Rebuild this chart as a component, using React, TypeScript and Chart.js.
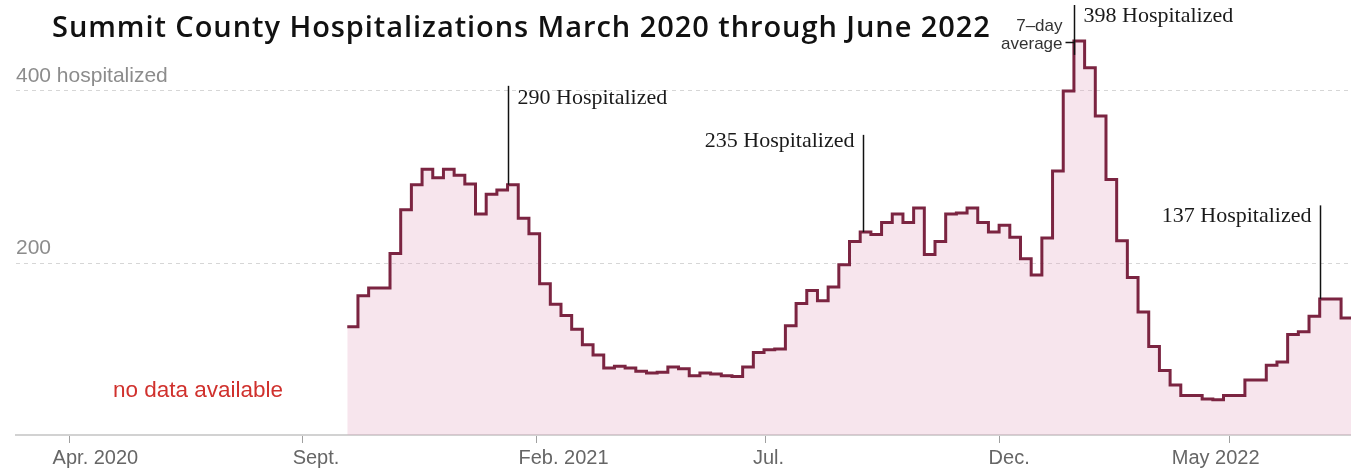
import React, { useEffect, useRef } from 'react';
import { Chart, registerables } from 'chart.js';

Chart.register(...registerables);

// ---- data ----
const originDate = '2020-04-01';
const seriesStartDate = '2020-09-30'; // first weekly value
const weeklyHospitalized = [
  126, 162, 171, 171, 211, 262, 291, 309, 299, 309,
  302, 292, 257, 280, 285, 291, 252, 234, 176, 152,
  139, 123, 105, 93, 78, 80, 78, 74, 72, 73,
  79, 77, 69, 72, 71, 69, 68, 79, 96, 99,
  100, 127, 153, 168, 156, 172, 198, 225, 236, 233,
  247, 257, 247, 264, 210, 225, 257, 258, 264, 247,
  236, 244, 230, 205, 186, 229, 307, 400, 458, 427,
  371, 297, 226, 183, 143, 103, 75, 58, 46, 46,
  42, 41, 46, 46, 64, 64, 81, 85, 117, 120,
  138, 158, 158, 136,
];
const tickDates = ['2020-04-01', '2020-09-01', '2021-02-01', '2021-07-01', '2021-12-01', '2022-05-01'];
const tickLabels = ['Apr. 2020', 'Sept.', 'Feb. 2021', 'Jul.', 'Dec.', 'May 2022'];
const yTickValues = [200, 400];
const calloutTexts = ['290 Hospitalized', '235 Hospitalized', '398 Hospitalized', '137 Hospitalized'];
const calloutWeeks = [15, 48.3, 68, 91];

// ---- helpers / layout ----
const dayOf = (s: string) => (Date.parse(s) - Date.parse(originDate)) / 86400000;
const startDay = dayOf(seriesStartDate);
const xMinDay = -35;
const xMaxDay = 839.5;
const tickNudges = [26, 13, 27, 3, 10, -14];
const calloutCfg = [
  { top: 406, bottom: null as number | null, side: 'left', dy: 18 },
  { top: 349, bottom: null as number | null, side: 'right', dy: 12 },
  { top: 500, bottom: 442 as number | null, side: 'left', dy: 17 },
  { top: 267, bottom: null as number | null, side: 'right', dy: 17 },
];

const overlayPlugin = {
  id: 'overlay',
  afterDraw(chart: any) {
    const { ctx, scales } = chart;
    const x = scales.x;
    const y = scales.y;
    ctx.save();

    // Title
    const titleText = 'Summit County Hospitalizations March 2020 through June 2022';
    ctx.font = '600 29px "Open Sans"';
    (ctx as any).letterSpacing = '0px';
    const w = ctx.measureText(titleText).width;
    const extra = Math.max(0, Math.min(2, (938 - w) / (titleText.length - 1)));
    (ctx as any).letterSpacing = `${extra.toFixed(2)}px`;
    ctx.fillStyle = '#111';
    ctx.textAlign = 'left';
    ctx.textBaseline = 'alphabetic';
    ctx.fillText(titleText, 52, 37);
    (ctx as any).letterSpacing = '0px';

    // x tick labels
    ctx.font = '20px "Liberation Sans"';
    ctx.fillStyle = '#666';
    ctx.textAlign = 'center';
    ctx.textBaseline = 'middle';
    tickDates.forEach((d, i) => {
      ctx.fillText(tickLabels[i], x.getPixelForValue(dayOf(d)) + tickNudges[i], 458);
    });

    // no data
    ctx.font = '22.5px "Liberation Sans"';
    ctx.fillStyle = '#d0312d';
    ctx.textAlign = 'left';
    ctx.textBaseline = 'alphabetic';
    ctx.fillText('no data available', 113, 397);

    // callouts
    ctx.strokeStyle = '#111';
    ctx.lineWidth = 1.5;
    ctx.fillStyle = '#1a1a1a';
    ctx.font = '22px "Liberation Serif"';
    calloutTexts.forEach((t, i) => {
      const cfg = calloutCfg[i];
      const wk = calloutWeeks[i];
      const px = Math.round(x.getPixelForValue(startDay + 7 * wk)) + 0.5;
      const topPx = y.getPixelForValue(cfg.top);
      const botVal = cfg.bottom != null ? cfg.bottom : weeklyHospitalized[Math.floor(wk)];
      const botPx = y.getPixelForValue(botVal);
      ctx.beginPath();
      ctx.moveTo(px, topPx);
      ctx.lineTo(px, botPx);
      ctx.stroke();
      ctx.textAlign = cfg.side === 'left' ? 'left' : 'right';
      ctx.fillText(t, cfg.side === 'left' ? px + 9 : px - 9, topPx + cfg.dy);
    });

    // 7-day average label
    const px68 = Math.round(x.getPixelForValue(startDay + 7 * 68)) + 0.5;
    ctx.font = '17px "Liberation Sans"';
    ctx.fillStyle = '#333';
    ctx.textAlign = 'right';
    ctx.fillText('7–day', px68 - 12, 31);
    ctx.fillText('average', px68 - 12, 49);
    ctx.beginPath();
    ctx.moveTo(px68 - 9, 42.5);
    ctx.lineTo(px68, 42.5);
    ctx.stroke();

    ctx.restore();
  },
};

export default function App() {
  const ref = useRef<HTMLCanvasElement>(null);
  useEffect(() => {
    const points = weeklyHospitalized.map((v, i) => ({ x: startDay + 7 * i, y: v }));
    points.push({ x: startDay + 7 * weeklyHospitalized.length, y: weeklyHospitalized[weeklyHospitalized.length - 1] });
    const chart = new Chart(ref.current as HTMLCanvasElement, {
      type: 'line',
      data: {
        datasets: [
          {
            data: points,
            stepped: true,
            borderColor: '#7b2441',
            borderWidth: 3,
            borderJoinStyle: 'miter',
            borderCapStyle: 'butt',
            backgroundColor: 'rgba(230,170,195,0.3)',
            fill: 'origin',
            pointRadius: 0,
            pointHoverRadius: 0,
          } as any,
        ],
      },
      options: {
        animation: false,
        responsive: false,
        devicePixelRatio: 1,
        layout: { padding: { top: 5, right: 0, bottom: 0, left: 0 } },
        plugins: { legend: { display: false }, tooltip: { enabled: false }, title: { display: false } },
        events: [],
        scales: {
          x: {
            type: 'linear',
            min: xMinDay,
            max: xMaxDay,
            afterBuildTicks: (s: any) => {
              s.ticks = tickDates.map((d) => ({ value: dayOf(d) }));
            },
            afterFit: (s: any) => {
              s.height = 37;
              s.paddingLeft = 0;
              s.paddingRight = 0;
              s.paddingTop = 0;
              s.paddingBottom = 0;
            },
            ticks: { display: false },
            grid: {
              display: true,
              drawOnChartArea: false,
              drawTicks: true,
              tickLength: 8,
              color: '#a0a0a0',
              lineWidth: 1,
            },
            border: { display: true, color: '#d2d2d2', width: 2 },
          },
          y: {
            type: 'linear',
            min: 0,
            max: 500,
            afterBuildTicks: (s: any) => {
              s.ticks = yTickValues.map((v) => ({ value: v }));
            },
            afterFit: (s: any) => {
              s.width = 16;
              s.paddingTop = 0;
              s.paddingBottom = 0;
              s.paddingLeft = 0;
              s.paddingRight = 0;
            },
            ticks: {
              mirror: true,
              padding: 0,
              labelOffset: -15,
              color: '#8c8c8c',
              font: { family: '"Liberation Sans"', size: 21 },
              callback: (v: any) => (v === 400 ? '400 hospitalized' : String(v)),
            },
            grid: {
              drawTicks: false,
              color: '#d6d6d6',
              lineWidth: 1,
            },
            border: { display: false, dash: [4, 4] },
          },
        },
      },
      plugins: [overlayPlugin],
    });
    return () => chart.destroy();
  }, []);
  return (
    <div style={{ position: 'fixed', left: 0, top: 0, width: 1351, height: 472, background: '#fff' }}>
      <canvas ref={ref} width={1351} height={472} style={{ display: 'block', width: 1351, height: 472 }} />
    </div>
  );
}
